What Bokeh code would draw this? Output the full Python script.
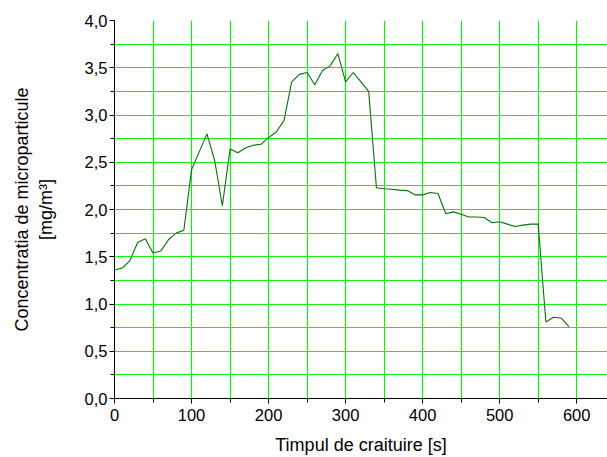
from bokeh.plotting import figure
from bokeh.embed import file_html
from bokeh.resources import INLINE
from bokeh.models import SingleIntervalTicker, FixedTicker, CustomJSTickFormatter, Range1d

time_s = [0, 10, 20, 30, 40, 50, 60, 70, 80, 90,
          100, 110, 120, 130, 140, 150, 160, 170, 180, 190,
          200, 210, 220, 230, 240, 250, 260, 270, 280, 290,
          300, 310, 320, 330, 340, 350, 360, 370, 380, 390,
          400, 410, 420, 430, 440, 450, 460, 470, 480, 490,
          500, 510, 520, 530, 540, 550, 560, 570, 580, 590]
conc = [1.36, 1.38, 1.46, 1.65, 1.69, 1.54, 1.56, 1.68, 1.75, 1.78,
        2.42, 2.61, 2.80, 2.52, 2.04, 2.64, 2.60, 2.65, 2.68, 2.69,
        2.76, 2.82, 2.94, 3.35, 3.43, 3.45, 3.32, 3.47, 3.52, 3.65,
        3.35, 3.45, 3.35, 3.25, 2.23, 2.22, 2.215, 2.205, 2.20, 2.155,
        2.155, 2.18, 2.17, 1.955, 1.975, 1.95, 1.92, 1.92, 1.915, 1.86,
        1.87, 1.845, 1.82, 1.835, 1.845, 1.845, 0.81, 0.86, 0.85, 0.76]

x_grid_ticks = [50, 100, 150, 200, 250, 300, 350, 400, 450, 500, 550, 600]
y_grid_ticks = [0.25, 0.5, 0.75, 1.0, 1.25, 1.5, 1.75, 2.0, 2.25, 2.5, 2.75, 3.0, 3.25, 3.5, 3.75]

FONT = "Liberation Sans"

p = figure(width=607, height=457, output_backend="svg", toolbar_location=None,
           x_range=Range1d(0, 640), y_range=Range1d(0, 4.0),
           min_border_left=114, min_border_right=0, min_border_top=20, min_border_bottom=59)
p.outline_line_color = None
p.background_fill_color = "white"
p.border_fill_color = "white"

p.line(time_s, conc, line_color="#0a6e0a", line_width=1.1)

for ax in (p.xaxis[0], p.yaxis[0]):
    ax.axis_line_color = "black"
    ax.axis_line_width = 1
    ax.major_tick_line_color = "black"
    ax.minor_tick_line_color = "black"
    ax.major_tick_in = 0
    ax.minor_tick_in = 0
    ax.major_tick_out = 5
    ax.minor_tick_out = 4
    ax.major_label_text_font = FONT
    ax.major_label_text_font_size = "16.5px"
    ax.major_label_text_color = "black"
    ax.axis_label_text_font = FONT
    ax.axis_label_text_font_size = "18px"
    ax.axis_label_text_font_style = "normal"
    ax.axis_label_text_color = "black"

p.xaxis.ticker = SingleIntervalTicker(interval=100, num_minor_ticks=2)
p.yaxis.ticker = SingleIntervalTicker(interval=0.5, num_minor_ticks=2)
p.yaxis.formatter = CustomJSTickFormatter(code="return tick.toFixed(1).replace('.', ',');")
p.xaxis.formatter = CustomJSTickFormatter(code="return tick.toFixed(0);")
p.xaxis.axis_label = "Timpul de craituire [s]"
p.yaxis.axis_label = "Concentratia de microparticule\n[mg/m³]"
p.xaxis.major_label_standoff = 5
p.xaxis.axis_label_standoff = 11
p.yaxis.major_label_standoff = 2
p.yaxis.axis_label_standoff = 26

p.xgrid.ticker = FixedTicker(ticks=x_grid_ticks)
p.ygrid.ticker = FixedTicker(ticks=y_grid_ticks)
for g in (p.xgrid[0], p.ygrid[0]):
    g.grid_line_color = "#11f011"
    g.grid_line_width = 1.2
    g.grid_line_alpha = 1.0

open("out.html", "w").write(file_html(p, INLINE))
